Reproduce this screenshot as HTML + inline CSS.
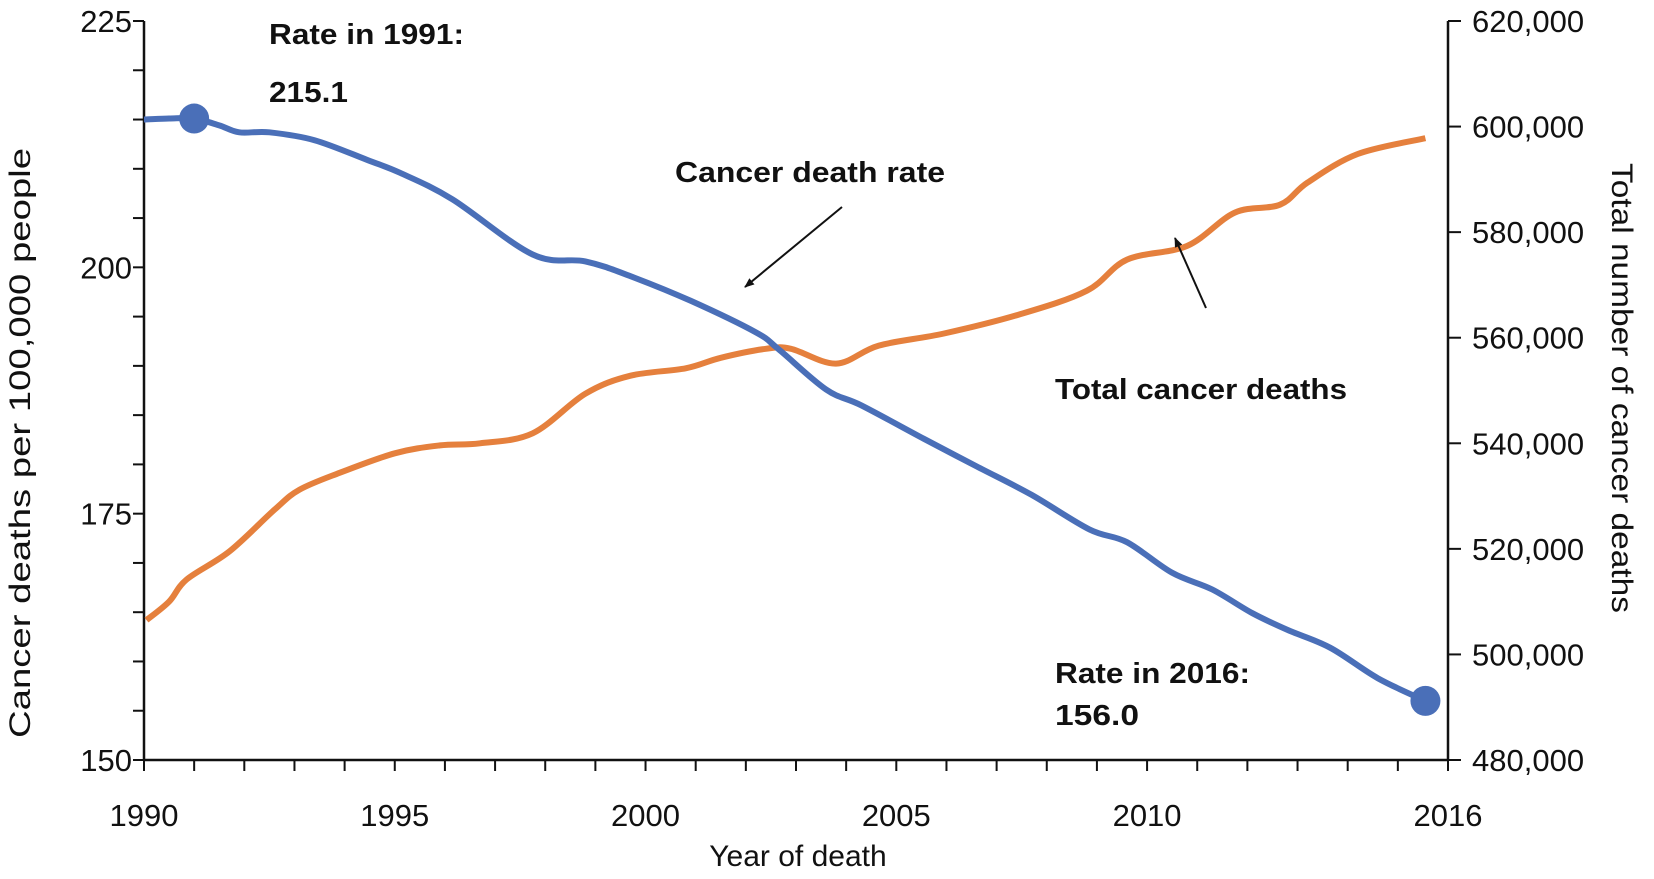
<!DOCTYPE html>
<html>
<head>
<meta charset="utf-8">
<style>
  html,body{margin:0;padding:0;background:#fff;}
  svg{display:block;}
  text{font-family:"Liberation Sans",sans-serif;fill:#111;}
</style>
</head>
<body>
<svg id="chart" width="1654" height="879" viewBox="0 0 1654 879" xmlns="http://www.w3.org/2000/svg"></svg>
<script>
const rateYears = [1990,1990.5,1991,1991.5,1991.9,1992.5,1993.4,1994.45,1995.1,1996.15,1997.75,1998.8,1999.7,2000.9,2002.2,2002.65,2003.6,2004.3,2005.55,2006.6,2007.7,2008.85,2009.6,2010.5,2011.3,2012.1,2012.8,2013.65,2014.6,2015.55];
const deathRate = [215.0,215.1,215.1,214.4,213.7,213.7,212.9,210.9,209.6,206.9,201.3,200.6,199.1,196.6,193.4,191.7,187.6,186.0,182.6,179.8,176.9,173.4,172.1,169.0,167.3,164.9,163.2,161.4,158.3,156.0];
const deathYears = [1990.05,1990.5,1990.85,1991.7,1992.6,1993.1,1993.9,1995.0,1995.9,1996.7,1997.75,1998.8,1999.7,2000.8,2001.5,2002.4,2002.9,2003.8,2004.65,2005.95,2007.45,2008.8,2009.6,2010.8,2011.75,2012.65,2013.2,2014.2,2015.55];
const totalDeaths = [506500,510000,514200,519500,527400,531200,534400,538100,539600,540000,541900,549400,552800,554200,556200,557900,557900,555100,558500,560800,564400,568900,574800,577400,583700,585200,589400,594800,597800];
const xTickLabels = [1990,1995,2000,2005,2010,2016];
const leftTickLabels = [150,175,200,225];
const rightTickLabels = [480000,500000,520000,540000,560000,580000,600000,620000];
const highlightIdx = [2, 29];

const svg = document.getElementById('chart');
const NS = 'http://www.w3.org/2000/svg';
const X0=144, X1=1448, YT=21, YB=760;
const xs = y => X0 + (y-1990)/(2016-1990)*(X1-X0);
const yl = v => YB - (v-150)/(225-150)*(YB-YT);
const yr = v => YB - (v-480000)/(620000-480000)*(YB-YT);
function mk(tag, attrs){const e=document.createElementNS(NS,tag);for(const k in attrs)e.setAttribute(k,attrs[k]);svg.appendChild(e);return e;}
function txt(s, attrs){const e=mk('text',attrs);e.textContent=s;return e;}
function smooth(pts){
  let d='M'+pts[0][0].toFixed(1)+','+pts[0][1].toFixed(1);
  for(let i=0;i<pts.length-1;i++){
    const p0=pts[Math.max(0,i-1)],p1=pts[i],p2=pts[i+1],p3=pts[Math.min(pts.length-1,i+2)];
    const c1x=p1[0]+(p2[0]-p0[0])/6,c1y=p1[1]+(p2[1]-p0[1])/6;
    const c2x=p2[0]-(p3[0]-p1[0])/6,c2y=p2[1]-(p3[1]-p1[1])/6;
    d+=' C'+c1x.toFixed(1)+','+c1y.toFixed(1)+' '+c2x.toFixed(1)+','+c2y.toFixed(1)+' '+p2[0].toFixed(1)+','+p2[1].toFixed(1);
  }
  return d;
}

let a;
a = mk('line',{x1:X0,y1:YT,x2:X0,y2:YB,stroke:'#111','stroke-width':2.5});


a = mk('line',{x1:X1,y1:YT,x2:X1,y2:YB,stroke:'#111','stroke-width':2.5});


a = mk('line',{x1:X0,y1:YB,x2:X1,y2:YB,stroke:'#111','stroke-width':2.5});



for(let yr0=1990; yr0<=2016; yr0++){
  const t = mk('line',{x1:xs(yr0),y1:YB,x2:xs(yr0),y2:YB+11,stroke:'#111','stroke-width':2});
  
  
}
xTickLabels.forEach(v=>{
  const t = txt(String(v),{x:xs(v),y:826,'font-size':31,'text-anchor':'middle'});
  
  
});
for(let v=150; v<=225; v+=5){
  const t = mk('line',{x1:X0-11,y1:yl(v),x2:X0,y2:yl(v),stroke:'#111','stroke-width':2});
  
  
}
leftTickLabels.forEach(v=>{
  const t = txt(String(v),{x:132,y:yl(v)+11,'font-size':31,'text-anchor':'end'});
  
  
});
rightTickLabels.forEach(v=>{
  const t = mk('line',{x1:X1,y1:yr(v),x2:X1+13,y2:yr(v),stroke:'#111','stroke-width':2});
  
  
  const l = txt(v.toLocaleString('en-US'),{x:1472,y:yr(v)+11,'font-size':31});
  
  
});

let t;
t = txt('Year of death',{x:798,y:866,'font-size':30,'text-anchor':'middle'});


t = txt('Cancer deaths per 100,000 people',{x:0,y:0,'font-size':30,'text-anchor':'middle',textLength:590,lengthAdjust:'spacingAndGlyphs',transform:'translate(30,443) rotate(-90)'});


t = txt('Total number of cancer deaths',{x:0,y:0,'font-size':30,'text-anchor':'middle',textLength:450,lengthAdjust:'spacingAndGlyphs',transform:'translate(1612,388) rotate(90)'});



const o = mk('path',{d:smooth(deathYears.map((y,i)=>[xs(y),yr(totalDeaths[i])])),fill:'none',stroke:'#E5803D','stroke-width':6,'stroke-linejoin':'round'});


const b = mk('path',{d:smooth(rateYears.map((y,i)=>[xs(y),yl(deathRate[i])])),fill:'none',stroke:'#4A6FB8','stroke-width':6,'stroke-linejoin':'round'});


highlightIdx.forEach(i=>{
  const c = mk('circle',{cx:xs(rateYears[i]),cy:yl(deathRate[i]),r:15,fill:'#4A6FB8'});
  
  
});

function bold(s,x,y,len,name){
  const e = txt(s,{x:x,y:y,'font-size':29,'font-weight':'bold',textLength:len,lengthAdjust:'spacingAndGlyphs'});
  
  
}
bold('Rate in 1991:',269,44,195,'rate-1991-label');
bold('215.1',269,102,79,'rate-1991-value');
bold('Cancer death rate',675,182,270,'death-rate-label');
bold('Total cancer deaths',1055,399,292,'total-deaths-label');
bold('Rate in 2016:',1055,683,195,'rate-2016-label');
bold('156.0',1055,725,84,'rate-2016-value');

const defs = mk('defs',{});
defs.innerHTML = '<marker id="ah" markerWidth="10" markerHeight="8" refX="9" refY="4" orient="auto" markerUnits="userSpaceOnUse"><path d="M0,0 L10,4 L0,8 z" fill="#111"/></marker>';
let ar = mk('line',{x1:842,y1:207,x2:745,y2:287,stroke:'#111','stroke-width':2,'marker-end':'url(#ah)'});


ar = mk('line',{x1:1206,y1:308,x2:1175,y2:238,stroke:'#111','stroke-width':2,'marker-end':'url(#ah)'});


</script>
</body>
</html>
